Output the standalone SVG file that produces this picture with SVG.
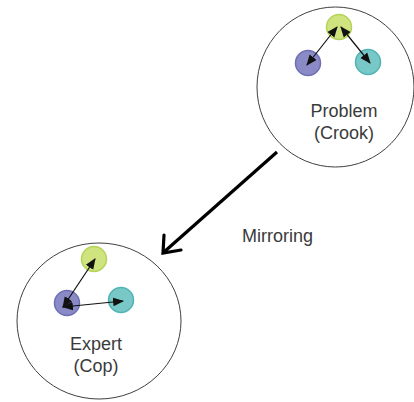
<svg xmlns="http://www.w3.org/2000/svg" width="414" height="402" viewBox="0 0 414 402">
  <style>
    .frame { fill: #ffffff; stroke: #404040; stroke-width: 1; }
    .green { fill: #cfe37e; stroke: #b5d35a; stroke-width: 1.5; }
    .purple { fill: #8a8ac6; stroke: #6e6eb6; stroke-width: 1.5; }
    .teal { fill: #78c8c8; stroke: #4fb3b3; stroke-width: 1.5; }
    .link { stroke: #111; stroke-width: 1.2; fill: none; marker-start: url(#tip); marker-end: url(#tip); }
    .label { font-family: "Liberation Sans", Arial, sans-serif; font-size: 18px; fill: #3a3a3a; text-anchor: middle; }
  </style>
  <defs>
    <marker id="tip" viewBox="0 0 10 10" refX="9" refY="5" markerWidth="11" markerHeight="11" markerUnits="userSpaceOnUse" orient="auto-start-reverse">
      <path d="M0,1 L10,5 L0,9 Z" fill="#111"/>
    </marker>
  </defs>

  <g id="problem">
    <ellipse class="frame" cx="335.5" cy="87" rx="78.5" ry="80"/>
    <circle class="green" cx="339" cy="27" r="12.5"/>
    <circle class="purple" cx="308" cy="63" r="12.5"/>
    <circle class="teal" cx="368" cy="62" r="12.5"/>
    <text class="label" x="344" y="117">Problem</text>
    <text class="label" x="344" y="139">(Crook)</text>
  </g>

  <g id="expert">
    <ellipse class="frame" cx="99" cy="321" rx="82" ry="78"/>
    <circle class="green" cx="94" cy="259" r="12.5"/>
    <circle class="purple" cx="67" cy="303" r="12.5"/>
    <circle class="teal" cx="121" cy="300" r="12.5"/>
    <text class="label" x="96" y="350">Expert</text>
    <text class="label" x="96" y="372">(Cop)</text>
  </g>

  <g id="connectors">
    <line class="link" x1="337" y1="27" x2="307" y2="65"/>
    <line class="link" x1="341" y1="27" x2="370" y2="63"/>
    <line class="link" x1="95" y1="259" x2="63" y2="307"/>
    <line class="link" x1="63" y1="307" x2="123" y2="301"/>
    <line x1="277" y1="152" x2="164" y2="252" stroke="#000" stroke-width="3.2"/>
    <path d="M164,235 L163,253 L181,250" fill="none" stroke="#000" stroke-width="3.2" stroke-linecap="round" stroke-linejoin="miter"/>
  </g>

  <text class="label" x="277.5" y="242">Mirroring</text>
</svg>
